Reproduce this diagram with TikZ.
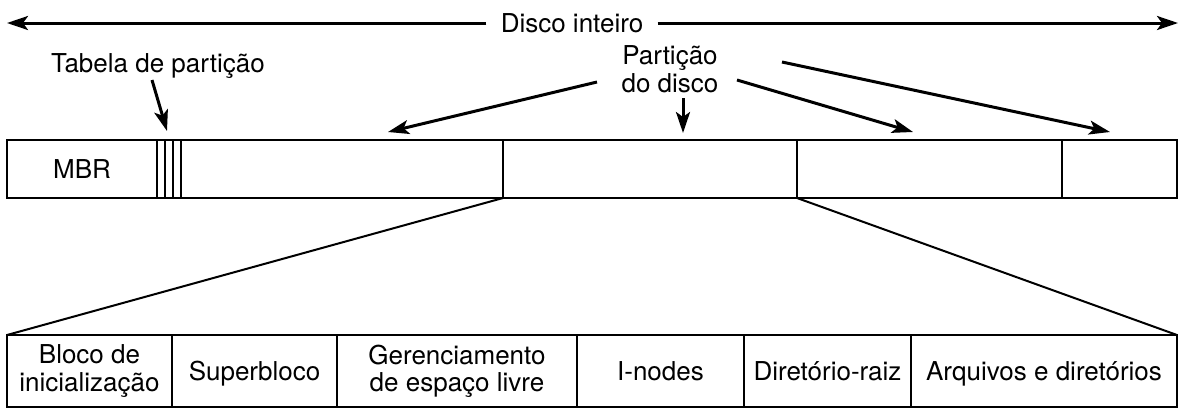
\documentclass[tikz,border=0pt]{standalone}
\usepackage{fontspec}
\setmainfont{TeX Gyre Heros}
\usetikzlibrary{arrows.meta}
\begin{document}
\begin{tikzpicture}[x=0.5pt,y=-0.5pt,
  seg/.style={draw, line width=1pt, inner sep=0pt, outer sep=0pt, anchor=north west,
    font=\fontsize{13}{13.5}\selectfont, align=center},
  one/.style={text height=9.4pt, text depth=0pt},
  lbl/.style={font=\fontsize{13}{14}\selectfont, align=center, inner sep=0pt},
  ptr/.style={-{Stealth[length=10.5pt,width=7pt,inset=2.5pt]}, line width=1.5pt},
  link/.style={line width=1pt}]
\useasboundingbox (0,0) rectangle (1187,419);
% top bar
\node[seg, one, minimum width=75pt, minimum height=29pt] (mbr) at (7,140) {MBR};
\node[seg, minimum width=4pt, minimum height=29pt] (t1) at (157,140) {};
\node[seg, minimum width=4pt, minimum height=29pt] (t2) at (165,140) {};
\node[seg, minimum width=4pt, minimum height=29pt] (t3) at (173,140) {};
\node[seg, minimum width=161pt, minimum height=29pt] (p1) at (181,140) {};
\node[seg, minimum width=147pt, minimum height=29pt] (p2) at (503,140) {};
\node[seg, minimum width=132.5pt, minimum height=29pt] (p3) at (797,140) {};
\node[seg, minimum width=57.5pt, minimum height=29pt] (p4) at (1062,140) {};
% bottom bar
\node[seg, minimum width=82.5pt, minimum height=36pt] (b1) at (7,335) {Bloco de\\inicialização};
\node[seg, one, minimum width=82.5pt, minimum height=36pt] (b2) at (172,335) {Superbloco};
\node[seg, minimum width=120pt, minimum height=36pt] (b3) at (337,335) {Gerenciamento\\de espaço livre};
\node[seg, one, minimum width=83.5pt, minimum height=36pt] (b4) at (577,335) {I-nodes};
\node[seg, one, minimum width=83.5pt, minimum height=36pt] (b5) at (744,335) {Diretório-raiz};
\node[seg, one, minimum width=133pt, minimum height=36pt] (b6) at (911,335) {Arquivos e diretórios};
% zoom lines
\draw[link] (p2.south west) -- (b1.north west);
\draw[link] (p3.south west) -- (b6.north east);
% whole disk
\node[lbl, one, inner xsep=7pt] (di) at (572,23) {Disco inteiro};
\coordinate (dl) at (7,23);
\coordinate (dr) at (1178,23);
\draw[ptr] (di.west) -- (dl);
\draw[ptr] (di.east) -- (dr);
% partition table
\node[lbl, one] (tp) at (158,63) {Tabela de partição};
\coordinate (ts) at (152,80);
\coordinate (te) at (167,131);
\draw[ptr] (ts) -- (te);
% partition
\node[lbl] (pd) at (670,69.5) {Partição\\do disco};
\coordinate (a1s) at (597,82);  \coordinate (a1e) at (388,132);
\coordinate (a2s) at (683,98);  \coordinate (a2e) at (683,133);
\coordinate (a3s) at (737,80);  \coordinate (a3e) at (913,132);
\coordinate (a4s) at (782,62);  \coordinate (a4e) at (1110,132);
\draw[ptr] (a1s) -- (a1e);
\draw[ptr] (a2s) -- (a2e);
\draw[ptr] (a3s) -- (a3e);
\draw[ptr] (a4s) -- (a4e);
\end{tikzpicture}
\end{document}
